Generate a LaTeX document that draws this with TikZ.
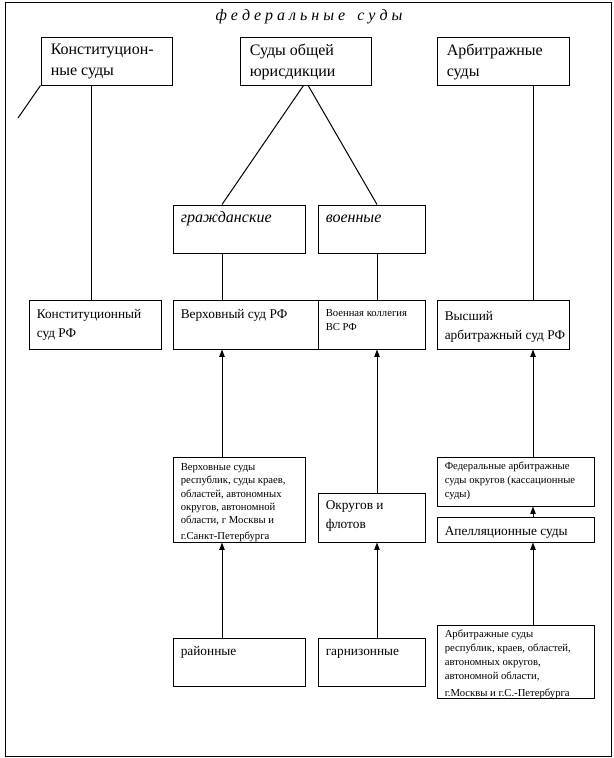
\documentclass[tikz,border=0pt]{standalone}
\usepackage{fontspec}
\setmainfont{Liberation Serif}
\usetikzlibrary{fit,arrows.meta}
\tikzset{
  box/.style={draw, line width=0.75pt, inner sep=0pt},
  txt/.style={anchor=north west, inner sep=0pt, align=left},
  big/.style={font=\fontsize{12}{16}\selectfont},
  bigit/.style={font=\fontsize{12}{16}\selectfont\itshape, text height=7.9pt},
  mid/.style={font=\fontsize{10}{14}\selectfont},
  midone/.style={font=\fontsize{10}{14}\selectfont, text height=6.6pt},
  sml/.style={font=\fontsize{8}{10.5}\selectfont},
  conn/.style={line width=0.75pt},
  arr/.style={line width=0.75pt, -{Triangle[width=4pt,length=5.5pt]}}
}
\begin{document}
\begin{tikzpicture}[x=0.75pt,y=-0.75pt]
\useasboundingbox (0,0) rectangle (614,758);
\node[box, fit={(5,2) (611,756)}] (frame) {};
\node[font=\fontsize{12}{14}\selectfont\itshape, inner sep=0pt] (title) at (309,17) {ф\ е\ д\ е\ р\ а\ л\ ь\ н\ ы\ е\ \ \ с\ у\ д\ ы};
% top row
\node[box, fit={(41,37) (172,85)}] (a1) {};
\node[txt,big] (a1t) at ([xshift=7.5pt,yshift=-5.25pt]a1.north west) {Конституцион-\\ные суды};
\node[box, fit={(240,37) (371,85)}] (a2) {};
\node[txt,big] (a2t) at ([xshift=7.5pt,yshift=-5.25pt]a2.north west) {Суды общей\\юрисдикции};
\node[box, fit={(437,37) (569,85)}] (a3) {};
\node[txt,big] (a3t) at ([xshift=7.5pt,yshift=-5.25pt]a3.north west) {Арбитражные\\суды};
% second row
\node[box, fit={(173,205) (305,253)}] (civ) {};
\node[txt,bigit] (civt) at ([xshift=6pt,yshift=-5.5pt]civ.north west) {гражданские};
\node[box, fit={(318,205) (425,253)}] (mil) {};
\node[txt,bigit] (milt) at ([xshift=6pt,yshift=-5.5pt]mil.north west) {военные};
% third row
\node[box, fit={(29,300) (161,349)}] (ks) {};
\node[txt,mid] (kst) at ([xshift=6pt,yshift=-7.25pt]ks.north west) {Конституционный\\суд РФ};
\node[box, fit={(173,300) (318,349)}] (vs) {};
\node[txt,midone] (vst) at ([xshift=6pt,yshift=-7.25pt]vs.north west) {Верховный суд РФ};
\node[box, fit={(318,300) (425,349)}] (vk) {};
\node[txt,sml] (vkt) at ([xshift=6pt,yshift=-7.25pt]vk.north west) {Военная коллегия\\ВС РФ};
\node[box, fit={(437,300) (569,349)}] (vas) {};
\node[txt,mid] (vast) at ([xshift=6pt,yshift=-9pt]vas.north west) {Высший\\арбитражный суд РФ};
% fourth row
\node[box, fit={(173,457) (305,542)}] (vsr) {};
\node[txt,sml,font=\fontsize{8}{10}\selectfont] (vsrt) at ([xshift=6pt,yshift=-5pt]vsr.north west) {Верховные суды\\республик, суды краев,\\областей, автономных\\округов, автономной\\области, г Москвы и\\[1.5pt]г.Санкт-Петербурга};
\node[box, fit={(318,493) (425,542)}] (okr) {};
\node[txt,mid] (okrt) at ([xshift=6pt,yshift=-6.25pt]okr.north west) {Округов и\\флотов};
\node[box, fit={(437,457) (594,506)}] (fas) {};
\node[txt,sml] (fast) at ([xshift=6pt,yshift=-4pt]fas.north west) {Федеральные арбитражные\\суды округов (кассационные\\суды)};
\node[box, fit={(437,517) (594,542)}] (aps) {};
\node[txt,midone] (apst) at ([xshift=6pt,yshift=-7.25pt]aps.north west) {Апелляционные суды};
% bottom row
\node[box, fit={(173,638) (305,686)}] (ray) {};
\node[txt,midone] (rayt) at ([xshift=6pt,yshift=-6.5pt]ray.north west) {районные};
\node[box, fit={(318,638) (425,686)}] (gar) {};
\node[txt,midone] (gart) at ([xshift=6pt,yshift=-6.5pt]gar.north west) {гарнизонные};
\node[box, fit={(437,625) (594,698)}] (asr) {};
\node[txt,sml] (asrt) at ([xshift=6pt,yshift=-4pt]asr.north west) {Арбитражные суды\\республик, краев, областей,\\автономных округов,\\автономной области,\\[2pt]г.Москвы и г.С.-Петербурга};
% connectors
\coordinate (diagend) at (18,118);
\draw[conn] (a1.south west) -- (diagend);
\draw[conn] (a1.south -| 91,0) -- (ks.north -| 91,0);
\draw[conn] ([xshift=-1.5pt]a2.south) -- (civ.north -| 222,0);
\draw[conn] ([xshift=2pt]a2.south) -- (mil.north -| 377,0);
\draw[conn] (a3.south -| 533,0) -- (vas.north -| 533,0);
\draw[conn] (civ.south -| 222,0) -- (vs.north -| 222,0);
\draw[conn] (mil.south -| 377,0) -- (vk.north -| 377,0);
\draw[arr] (vsr.north -| 222,0) -- (vs.south -| 222,0);
\draw[arr] (okr.north -| 377,0) -- (vk.south -| 377,0);
\draw[arr] (fas.north -| 533,0) -- (vas.south -| 533,0);
\draw[arr] (aps.north -| 533,0) -- (fas.south -| 533,0);
\draw[arr] (ray.north -| 222,0) -- (vsr.south -| 222,0);
\draw[arr] (gar.north -| 377,0) -- (okr.south -| 377,0);
\draw[arr] (asr.north -| 533,0) -- (aps.south -| 533,0);
\end{tikzpicture}
\end{document}
